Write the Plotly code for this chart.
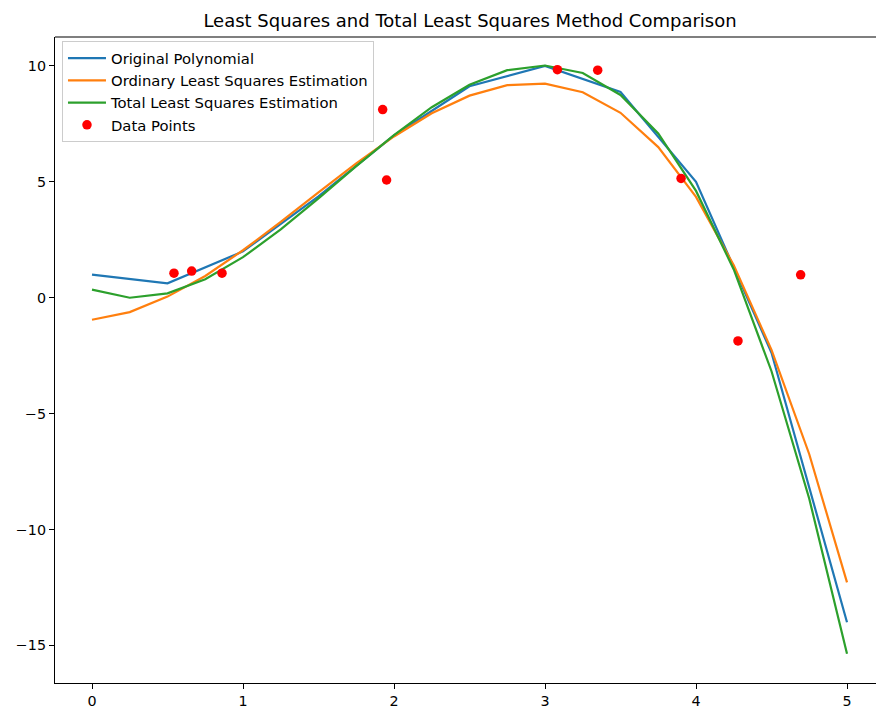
import plotly.graph_objects as go

# Curve samples
x_poly = [0, 0.5, 1, 1.5, 2, 2.5, 3, 3.5, 4, 4.5, 5]
y_poly = [1.0, 0.625, 2.0, 4.375, 7.0, 9.125, 10.0, 8.875, 5.0, -2.375, -14.0]

x_fit = [0, 0.25, 0.5, 0.75, 1, 1.25, 1.5, 1.75, 2, 2.25, 2.5,
         2.75, 3, 3.25, 3.5, 3.75, 4, 4.25, 4.5, 4.75, 5]
y_ols = [-0.95, -0.62, 0.05, 0.94, 2.05, 3.27, 4.55, 5.80, 6.96, 7.96, 8.72,
         9.17, 9.24, 8.87, 7.98, 6.50, 4.35, 1.40, -2.25, -6.75, -12.28]
y_tls = [0.35, 0.00, 0.19, 0.80, 1.75, 2.95, 4.29, 5.68, 7.02, 8.22, 9.19,
         9.82, 10.02, 9.70, 8.75, 7.09, 4.61, 1.22, -3.17, -8.67, -15.36]

# Noisy observations
x_data = [0.543, 0.660, 0.861, 1.925, 1.951, 3.082, 3.349, 3.901, 4.278, 4.693]
y_data = [1.06, 1.15, 1.06, 8.12, 5.08, 9.84, 9.82, 5.15, -1.86, 0.99]

x_ticks = [0, 1, 2, 3, 4, 5]
y_ticks = [-15, -10, -5, 0, 5, 10]

FONT = "DejaVu Sans"

fig = go.Figure()
fig.add_trace(go.Scatter(x=x_poly, y=y_poly, mode="lines", name="Original Polynomial",
                         line=dict(color="#1f77b4", width=2.2)))
fig.add_trace(go.Scatter(x=x_fit, y=y_ols, mode="lines", name="Ordinary Least Squares Estimation",
                         line=dict(color="#ff7f0e", width=2.2)))
fig.add_trace(go.Scatter(x=x_fit, y=y_tls, mode="lines", name="Total Least Squares Estimation",
                         line=dict(color="#2ca02c", width=2.2)))
fig.add_trace(go.Scatter(x=x_data, y=y_data, mode="markers", name="Data Points",
                         marker=dict(color="red", size=9.5)))

axis_common = dict(showline=True, linecolor="black", linewidth=1.2, mirror=False,
                   ticks="outside", ticklen=5, tickwidth=1.2, tickcolor="black",
                   showgrid=False, zeroline=False,
                   tickfont=dict(family=FONT, size=14.3, color="black"))

fig.update_layout(
    width=876, height=709,
    margin=dict(l=55, r=0, t=37, b=23),
    paper_bgcolor="white", plot_bgcolor="white",
    font=dict(family=FONT, color="black"),
    title=dict(text="Least Squares and Total Least Squares Method Comparison",
               x=470 / 876, xref="container", xanchor="center",
               y=1 - 21 / 709, yref="container", yanchor="middle",
               font=dict(family=FONT, size=18, color="black")),
    xaxis=dict(range=[-0.245, 5.192], tickvals=x_ticks, **axis_common),
    yaxis=dict(range=[-16.62, 11.25], tickvals=y_ticks, **axis_common),
    legend=dict(x=0.0085, y=0.9938, xanchor="left", yanchor="top",
                bgcolor="rgba(255,255,255,0.8)", bordercolor="#cccccc", borderwidth=1,
                font=dict(family=FONT, size=14.8, color="black"),
                itemwidth=38),
    showlegend=True,
    # top frame line across the plotting area
    shapes=[dict(type="line", xref="paper", yref="paper", x0=0, x1=1, y0=1, y1=1,
                 line=dict(color="black", width=1.2))],
)

fig.write_html("out.html")
